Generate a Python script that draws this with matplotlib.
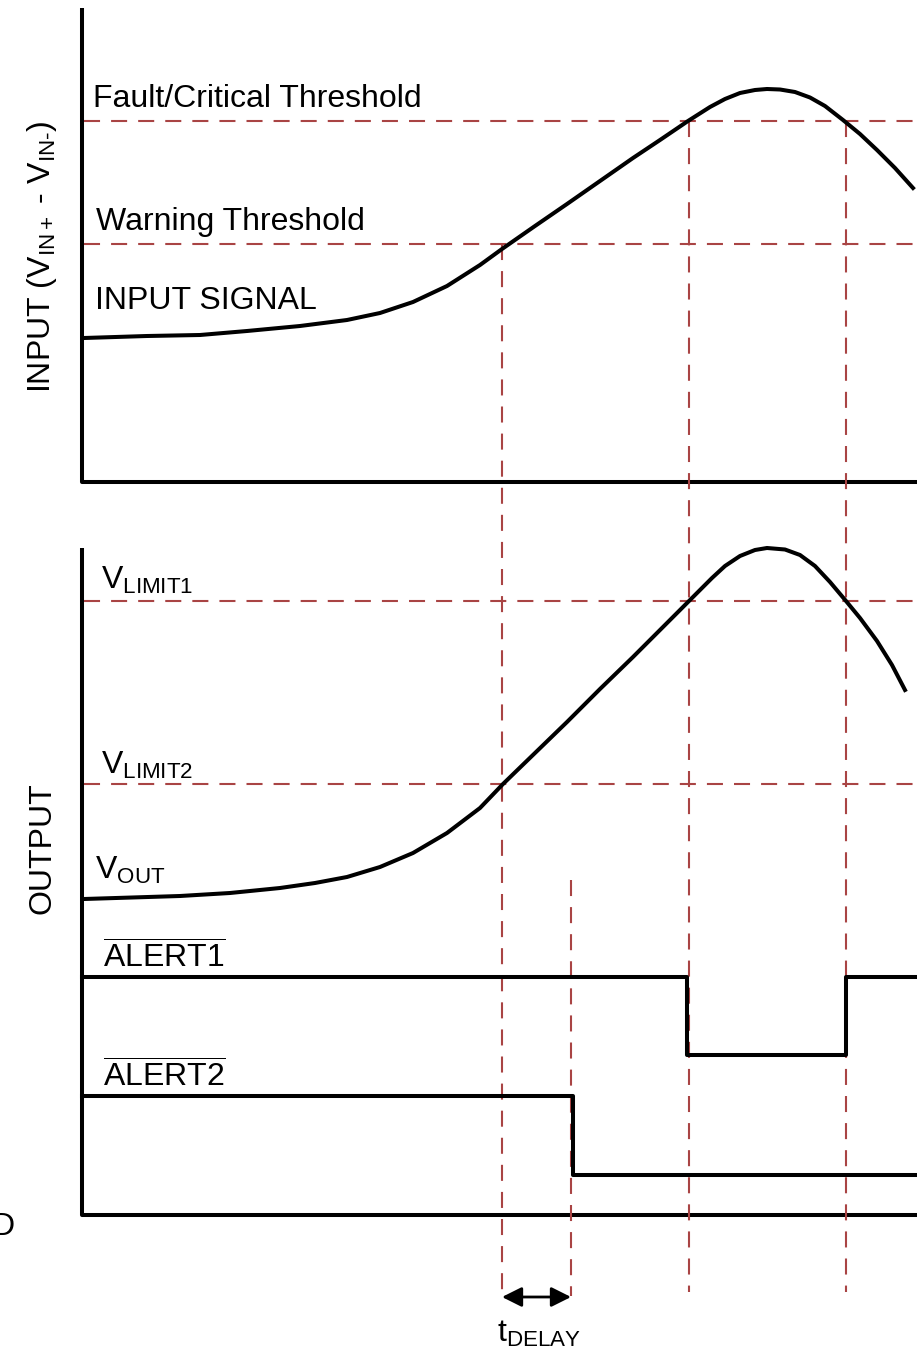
import matplotlib.pyplot as plt
from matplotlib.patches import FancyArrowPatch

plt.rcParams['font.family'] = ['Liberation Sans', 'DejaVu Sans']
plt.rcParams['mathtext.fontset'] = 'custom'
plt.rcParams['mathtext.rm'] = 'Liberation Sans'
plt.rcParams['mathtext.it'] = 'Liberation Sans'

# everything is in picture units (x to the right, y downwards)
in_t = [84, 147, 200, 247, 300, 347, 380, 413, 447, 480, 502, 535, 567, 600, 633, 660, 688,
        710, 725, 740, 755, 767, 780, 795, 810, 825, 843, 860, 877, 895, 913]
in_v = [338, 336, 335, 331, 326, 320, 313, 302, 286, 265, 249, 226, 204, 181, 158, 140, 121,
        107, 99, 93, 90, 89, 89.5, 92, 97.5, 106, 120, 134, 150, 168, 188]

out_t = [84, 180, 230, 280, 315, 347, 380, 413, 447, 480, 503, 535, 567, 600, 633, 660, 688,
         700, 712, 725, 740, 755, 767, 785, 800, 815, 830, 846, 860, 877, 892, 905]
out_v = [899, 896, 893, 888, 883, 877, 867, 853, 833, 808, 784, 753, 722, 689, 657, 630, 602,
         590, 578, 566, 556, 550, 548, 549.5, 555, 566, 582, 601, 618, 641, 665, 690]

fault_th = 121
warn_th = 244
vlimit1 = 601
vlimit2 = 784

alert1_t = [82, 687, 687, 846, 846, 917]
alert1_v = [977, 977, 1055, 1055, 977, 977]
alert2_t = [82, 573, 573, 917]
alert2_v = [1096, 1096, 1175, 1175]

t_warn = 502
t_delay_end = 571
t_fault_on = 689
t_fault_off = 846

red = '#a94444'
dash = dict(color=red, lw=1.5, ls=(0, (7.7, 5.3)))
blk = dict(color='black', lw=2.9)

fig = plt.figure(figsize=(9.17, 13.48), dpi=100)
ax = fig.add_axes([0, 0, 1, 1])
ax.set_xlim(0, 917)
ax.set_ylim(1348, 0)
ax.axis('off')

# axes frames
ax.plot([82, 82, 917], [8, 482, 482], solid_capstyle='butt', **blk)
ax.plot([82, 82, 917], [548, 1215, 1215], solid_capstyle='butt', **blk)

# thresholds
for y in [fault_th, warn_th, vlimit1, vlimit2]:
    ax.plot([84, 917], [y, y], **dash)

# vertical markers
ax.plot([t_warn, t_warn], [warn_th, 1296], **dash)
ax.plot([t_delay_end, t_delay_end], [880, 1296], **dash)
ax.plot([t_fault_on, t_fault_on], [fault_th, 1292], **dash)
ax.plot([t_fault_off, t_fault_off], [fault_th, 1292], **dash)

# signals
ax.plot(in_t, in_v, solid_joinstyle='round', **blk)
ax.plot(out_t, out_v, solid_joinstyle='round', **blk)
ax.plot(alert1_t, alert1_v, **blk)
ax.plot(alert2_t, alert2_v, **blk)

# tDELAY arrow
arr = FancyArrowPatch((t_warn, 1297), (t_delay_end, 1297), arrowstyle='<|-|>',
                      mutation_scale=30, color='black', lw=2, shrinkA=0, shrinkB=0)
ax.add_patch(arr)
ax.text((t_warn + t_delay_end) / 2 + 3, 1334, r'$\mathregular{t_{DELAY}}$', fontsize=23,
        ha='center', va='center')

fs = 23
ax.text(93, 99, 'Fault/Critical Threshold', fontsize=fs, va='center')
ax.text(96, 222, 'Warning Threshold', fontsize=fs, va='center')
ax.text(95, 301, 'INPUT SIGNAL', fontsize=fs, va='center')
ax.text(101, 580, r'$\mathregular{V_{LIMIT1}}$', fontsize=fs, va='center')
ax.text(101, 765, r'$\mathregular{V_{LIMIT2}}$', fontsize=fs, va='center')
ax.text(95, 870, r'$\mathregular{V_{OUT}}$', fontsize=fs, va='center')
ax.text(103, 958, r'$\overline{\mathregular{ALERT1}}$', fontsize=fs, va='center')
ax.text(103, 1077, r'$\overline{\mathregular{ALERT2}}$', fontsize=fs, va='center')
ax.text(16, 1227, 'GND', fontsize=fs, va='center', ha='right')

ax.text(42, 257, r'INPUT ($\mathregular{V_{IN+}}$ - $\mathregular{V_{IN\text{-}}}$)', fontsize=fs,
        rotation=90, ha='center', va='center')
ax.text(42, 848, 'OUTPUT', fontsize=fs, rotation=90, ha='center', va='center')

fig.savefig('out.png', dpi=100)
